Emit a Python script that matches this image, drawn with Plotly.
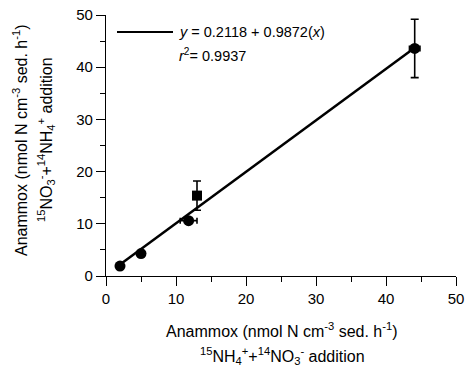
import plotly.graph_objects as go

# Data
x_circ = [2.0, 5.0, 11.8, 44.1]
y_circ = [1.9, 4.3, 10.6, 43.6]
xerr_circ = [0.0, 0.0, 1.2, 0.75]
yerr_circ = [0.0, 0.0, 0.0, 5.6]

x_sq = [13.0]
y_sq = [15.4]
yerr_sq = [2.8]

intercept = 0.2118
slope = 0.9872
r2 = 0.9937

x_ticks = [0, 10, 20, 30, 40, 50]
y_ticks = [0, 10, 20, 30, 40, 50]

all_x = x_circ + x_sq
fit_x = [min(all_x), max(all_x)]
fit_y = [intercept + slope * v for v in fit_x]

FONT = "Liberation Sans, Arial, sans-serif"

W, H = 466, 378
PL, PR, PT, PB = 106, 456, 15, 276  # plot area in pixels
PW, PH = PR - PL, PB - PT

def px(x):
    return (x - PL) / PW

def py(y):
    return (PB - y) / PH

fig = go.Figure()
fig.add_trace(go.Scatter(x=fit_x, y=fit_y, mode="lines",
                         line=dict(color="black", width=2.5), showlegend=False))
fig.add_trace(go.Scatter(
    x=x_circ, y=y_circ, mode="markers",
    marker=dict(symbol="circle", size=11, color="black"),
    error_x=dict(type="data", array=xerr_circ, color="black", thickness=1.6, width=3),
    error_y=dict(type="data", array=yerr_circ, color="black", thickness=1.6, width=4),
    showlegend=False))
fig.add_trace(go.Scatter(
    x=x_sq, y=y_sq, mode="markers",
    marker=dict(symbol="square", size=10, color="black"),
    error_y=dict(type="data", array=yerr_sq, color="black", thickness=1.6, width=4),
    showlegend=False))

axis_common = dict(
    showgrid=False, zeroline=False, showline=True, linecolor="black", linewidth=1.3,
    ticks="outside", ticklen=9, tickwidth=1.3, tickcolor="black",
    tickfont=dict(family=FONT, size=15, color="black"),
    minor=dict(ticks="outside", ticklen=5, tickwidth=1.3, tickcolor="black", dtick=5),
    automargin=False, ticklabeloverflow="allow",
)
fig.update_xaxes(range=[0, 50], tickvals=x_ticks, **axis_common)
fig.update_yaxes(range=[0, 50], tickvals=y_ticks, **axis_common)

fig.update_layout(
    width=W, height=H,
    margin=dict(l=PL, r=W - PR, t=PT, b=H - PB, autoexpand=False),
    plot_bgcolor="white", paper_bgcolor="white",
    font=dict(family=FONT, color="black"),
    shapes=[dict(type="line", xref="paper", yref="paper",
                 x0=px(117), x1=px(173), y0=py(32), y1=py(32),
                 line=dict(color="black", width=2))],
    annotations=[
        dict(text="<i>y</i> = 0.2118 + 0.9872(<i>x</i>)", xref="paper", yref="paper",
             x=px(177), y=py(32), xanchor="left", yanchor="middle",
             showarrow=False, font=dict(size=14.5, family=FONT)),
        dict(text="<i>r</i><sup>2</sup>= %.4f" % r2, xref="paper", yref="paper",
             x=px(177), y=py(55), xanchor="left", yanchor="middle",
             showarrow=False, font=dict(size=14.5, family=FONT)),
        dict(text="Anammox (nmol N cm<sup>-3</sup> sed. h<sup>-1</sup>)",
             xref="paper", yref="paper", x=px(282), y=py(330),
             xanchor="center", yanchor="middle", showarrow=False,
             font=dict(size=16, family=FONT)),
        dict(text="<sup>15</sup>NH<sub>4</sub><sup>+</sup>+<sup>14</sup>NO<sub>3</sub><sup>-</sup> addition",
             xref="paper", yref="paper", x=px(282), y=py(356),
             xanchor="center", yanchor="middle", showarrow=False,
             font=dict(size=16, family=FONT)),
        dict(text="Anammox (nmol N cm<sup>-3</sup> sed. h<sup>-1</sup>)",
             xref="paper", yref="paper", x=px(20), y=py(140),
             xanchor="center", yanchor="middle", textangle=-90, showarrow=False,
             font=dict(size=16, family=FONT)),
        dict(text="<sup>15</sup>NO<sub>3</sub><sup>-</sup>+<sup>14</sup>NH<sub>4</sub><sup>+</sup> addition",
             xref="paper", yref="paper", x=px(46), y=py(140),
             xanchor="center", yanchor="middle", textangle=-90, showarrow=False,
             font=dict(size=16, family=FONT)),
    ],
)

fig.write_html("out.html",
               config={"displayModeBar": False},
               post_script="document.body.style.margin='0';document.body.style.overflow='hidden';")
